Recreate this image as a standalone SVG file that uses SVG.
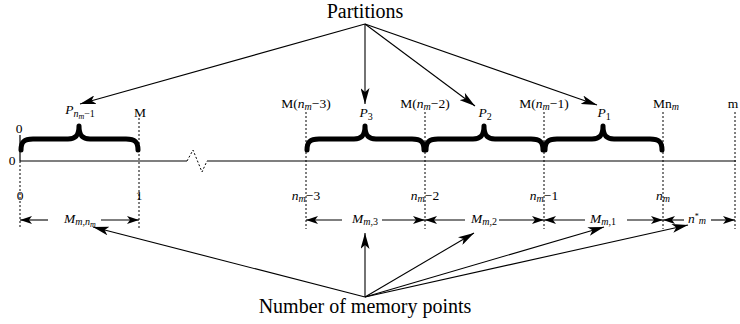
<svg xmlns="http://www.w3.org/2000/svg" width="740" height="324" viewBox="0 0 740 324">
<style>
text{font-family:"Liberation Serif","Times New Roman",serif;fill:#000}
.lb{font-size:13.5px;text-anchor:middle}
.big{font-size:20px;text-anchor:middle}
.i{font-style:italic}
.s{font-size:10px}
.ss{font-size:8px}
.ax{stroke:#555;stroke-width:1.3;fill:none}
.dv{stroke:#000;stroke-width:1;stroke-dasharray:2,2;fill:none}
.br{stroke:#000;stroke-width:5;fill:none;stroke-linecap:round;stroke-linejoin:round}
.ar{stroke:#000;stroke-width:1.1;fill:none;marker-end:url(#ah)}
.pa{stroke:#000;stroke-width:1.1;fill:none;marker-end:url(#ab)}
</style>
<defs>
<marker id="ah" viewBox="0 0 12 8" refX="12" refY="4" markerWidth="12" markerHeight="8" markerUnits="userSpaceOnUse" orient="auto"><path d="M0,0 L12,4 L0,8 L3,4 Z" fill="#000"/></marker>
<marker id="ab" viewBox="0 0 16 9" refX="16" refY="4.5" markerWidth="16" markerHeight="9" markerUnits="userSpaceOnUse" orient="auto"><path d="M0,0 L16,4.5 L0,9 L4,4.5 Z" fill="#000"/></marker>
</defs>

<g id="axis">
<line class="ax" x1="20" y1="161" x2="187" y2="161"/>
<polyline class="dv" points="187,161 193,150 202,172 207,161"/>
<line class="ax" x1="207" y1="161" x2="736" y2="161"/>
<line x1="20" y1="135" x2="20" y2="161" stroke="#000" stroke-width="1.2"/>
<text x="19" y="133" class="lb">0</text>
<text x="12" y="165" class="lb">0</text>
</g>

<g id="verticals">
<line class="dv" x1="20" y1="161" x2="20" y2="229"/>
<line class="dv" x1="139" y1="118" x2="139" y2="229"/>
<line class="dv" x1="306" y1="112" x2="306" y2="229"/>
<line class="dv" x1="425" y1="112" x2="425" y2="229"/>
<line class="dv" x1="544" y1="112" x2="544" y2="229"/>
<line class="dv" x1="663" y1="112" x2="663" y2="229"/>
<line class="dv" x1="735" y1="112" x2="735" y2="229"/>
</g>

<g id="braces">
<path class="br" d="M21,150 C21,142 24,139 33,139 L68,139 C75,139 79,136 79,126 C79,136 83,139 90,139 L126,139 C135,139 138,142 138,150"/>
<path class="br" d="M307,150 C307,142 310,139 319,139 L354,139 C361,139 365,136 365,126 C365,136 369,139 376,139 L412,139 C421,139 424,142 424,150"/>
<path class="br" d="M426,150 C426,142 429,139 438,139 L473,139 C480,139 484,136 484,126 C484,136 488,139 495,139 L531,139 C540,139 543,142 543,150"/>
<path class="br" d="M545,150 C545,142 548,139 557,139 L592,139 C599,139 603,136 603,126 C603,136 607,139 614,139 L650,139 C659,139 662,142 662,150"/>
</g>

<g id="top-labels">
<text x="80" y="114" class="lb"><tspan class="i">P</tspan><tspan class="i s" dy="3">n</tspan><tspan class="i ss" dy="2">m</tspan><tspan class="s" dy="-2">−1</tspan></text>
<text x="140" y="117" class="lb">M</text>
<text x="306" y="108" class="lb">M(<tspan class="i">n</tspan><tspan class="i s" dy="2">m</tspan><tspan dy="-2">−3)</tspan></text>
<text x="425" y="108" class="lb">M(<tspan class="i">n</tspan><tspan class="i s" dy="2">m</tspan><tspan dy="-2">−2)</tspan></text>
<text x="544" y="108" class="lb">M(<tspan class="i">n</tspan><tspan class="i s" dy="2">m</tspan><tspan dy="-2">−1)</tspan></text>
<text x="666" y="108" class="lb">Mn<tspan class="i s" dy="2">m</tspan></text>
<text x="733" y="108" class="lb">m</text>
<text x="366" y="117" class="lb"><tspan class="i">P</tspan><tspan class="s" dy="3">3</tspan></text>
<text x="485" y="117" class="lb"><tspan class="i">P</tspan><tspan class="s" dy="3">2</tspan></text>
<text x="604" y="117" class="lb"><tspan class="i">P</tspan><tspan class="s" dy="3">1</tspan></text>
</g>

<g id="bottom-labels">
<text x="20" y="200" class="lb">0</text>
<text x="139" y="200" class="lb">1</text>
<text x="306" y="200" class="lb"><tspan class="i">n</tspan><tspan class="i s" dy="2">m</tspan><tspan dy="-2">−3</tspan></text>
<text x="425" y="200" class="lb"><tspan class="i">n</tspan><tspan class="i s" dy="2">m</tspan><tspan dy="-2">−2</tspan></text>
<text x="544" y="200" class="lb"><tspan class="i">n</tspan><tspan class="i s" dy="2">m</tspan><tspan dy="-2">−1</tspan></text>
<text x="663" y="200" class="lb"><tspan class="i">n</tspan><tspan class="i s" dy="2">m</tspan></text>
<text x="80" y="223" class="lb"><tspan class="i">M</tspan><tspan class="i s" dy="2">m,n</tspan><tspan class="i ss" dy="2">m</tspan></text>
<text x="365" y="223" class="lb"><tspan class="i">M</tspan><tspan class="i s" dy="2">m,</tspan><tspan class="s">3</tspan></text>
<text x="484" y="223" class="lb"><tspan class="i">M</tspan><tspan class="i s" dy="2">m,</tspan><tspan class="s">2</tspan></text>
<text x="603" y="223" class="lb"><tspan class="i">M</tspan><tspan class="i s" dy="2">m,</tspan><tspan class="s">1</tspan></text>
<text x="697" y="223" class="lb"><tspan class="i">n</tspan><tspan class="ss" dy="-4">*</tspan><tspan class="i s" dy="5">m</tspan></text>
</g>

<g id="partitions">
<text x="365" y="18" class="big">Partitions</text>
</g>
<g id="memory-points">
<text x="365" y="313" class="big">Number of memory points</text>
</g>

<g id="connectors">
<line class="pa" x1="365" y1="24" x2="80" y2="104"/>
<line class="pa" x1="365" y1="24" x2="365" y2="104"/>
<line class="pa" x1="365" y1="24" x2="475" y2="106"/>
<line class="pa" x1="365" y1="24" x2="597" y2="105"/>

<line class="ar" x1="48" y1="220" x2="20" y2="220"/>
<line class="ar" x1="101" y1="220" x2="139" y2="220"/>
<line class="ar" x1="342" y1="220" x2="306" y2="220"/>
<line class="ar" x1="382" y1="220" x2="425" y2="220"/>
<line class="ar" x1="465" y1="220" x2="425" y2="220"/>
<line class="ar" x1="499" y1="220" x2="544" y2="220"/>
<line class="ar" x1="585" y1="220" x2="544" y2="220"/>
<line class="ar" x1="627" y1="220" x2="663" y2="220"/>
<line class="ar" x1="684" y1="220" x2="663" y2="220"/>
<line class="ar" x1="711" y1="220" x2="735" y2="220"/>

<line class="pa" x1="365" y1="297" x2="93" y2="227"/>
<line class="pa" x1="365" y1="297" x2="365" y2="233"/>
<line class="pa" x1="365" y1="297" x2="474" y2="233"/>
<line class="pa" x1="365" y1="297" x2="604" y2="227"/>
<line class="pa" x1="365" y1="297" x2="688" y2="225"/>
</g>
</svg>
